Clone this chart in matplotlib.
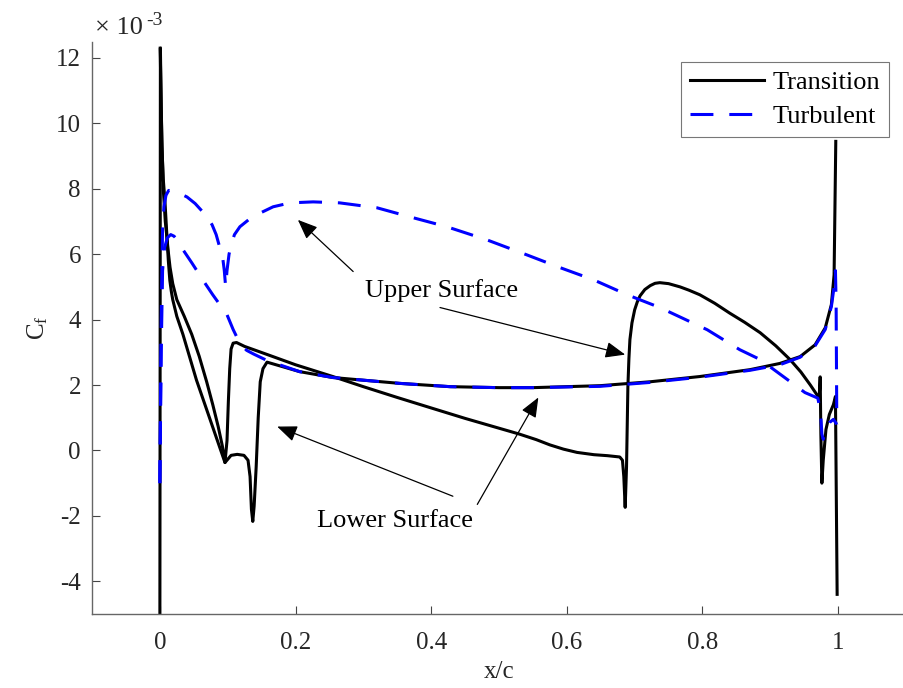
#!/usr/bin/env python3
import matplotlib
matplotlib.use('Agg')
import matplotlib.pyplot as plt
from matplotlib.ticker import FuncFormatter

# skin friction values, Cf in units of 1e-3
trans_upper_x = [0.0005, 0.002, 0.003, 0.005, 0.008, 0.010, 0.012, 0.015, 0.019, 0.025, 0.036,
                 0.047, 0.058, 0.069, 0.078, 0.086, 0.092, 0.096, 0.099, 0.101, 0.103, 0.105,
                 0.108, 0.113, 0.125, 0.160, 0.200, 0.255, 0.300, 0.350, 0.403, 0.450, 0.500,
                 0.530, 0.555, 0.575, 0.595, 0.615, 0.640, 0.660, 0.678, 0.682, 0.684, 0.686,
                 0.688, 0.690, 0.6915, 0.693, 0.696, 0.700, 0.704, 0.708, 0.715, 0.723, 0.730,
                 0.737, 0.750, 0.767, 0.780, 0.796, 0.818, 0.840, 0.862, 0.885, 0.908, 0.929,
                 0.945, 0.959, 0.972, 0.9735, 0.9745, 0.976, 0.978, 0.982, 0.987, 0.993, 0.996,
                 0.9985]
trans_upper_y = [12.3, 10.5, 9.5, 8.0, 7.0, 6.6, 6.15, 5.6, 5.1, 4.61, 4.1,
                 3.55, 2.88, 2.1, 1.4, 0.73, 0.15, -0.37, 0.3, 1.5, 2.5, 3.1,
                 3.28, 3.3, 3.18, 2.92, 2.62, 2.26, 1.95, 1.62, 1.28, 0.98, 0.68,
                 0.50, 0.33, 0.17, 0.04, -0.06, -0.13, -0.16, -0.2, -0.3, -0.8, -1.74,
                 -0.5, 1.95, 2.8, 3.39, 3.9, 4.3, 4.55, 4.73, 4.92, 5.04, 5.11,
                 5.13, 5.1, 5.0, 4.9, 4.76, 4.5, 4.2, 3.92, 3.6, 3.2, 2.78,
                 2.4, 2.0, 1.6, 2.25, 0.5, -1.0, -0.3, 0.64, 1.1, 1.4, 1.65,
                 -4.4]

trans_lower_x = [0.0, 0.0008, 0.002, 0.003, 0.005, 0.0074, 0.010, 0.0125, 0.0147, 0.017, 0.019,
                 0.025, 0.034, 0.054, 0.074, 0.096, 0.105, 0.114, 0.124, 0.130, 0.133, 0.135,
                 0.137, 0.139, 0.142, 0.145, 0.148, 0.152, 0.158, 0.206, 0.255, 0.354, 0.428,
                 0.500, 0.550, 0.649, 0.723, 0.796, 0.870, 0.914, 0.944, 0.966, 0.981, 0.990,
                 0.994, 0.9965]
trans_lower_y = [-6.0, 12.3, 10.5, 9.3, 8.3, 7.66, 6.7, 5.8, 5.2, 4.85, 4.61,
                 4.1, 3.55, 2.15, 0.95, -0.37, -0.15, -0.12, -0.15, -0.3, -0.8, -1.8,
                 -2.17, -1.7, -0.5, 1.0, 2.1, 2.5, 2.7, 2.41, 2.23, 2.05, 1.95,
                 1.92, 1.92, 1.98, 2.1, 2.26, 2.47, 2.66, 2.87, 3.23, 3.75, 4.46,
                 5.37, 9.45]

turb_upper_x = [0.0, 0.002, 0.004, 0.006, 0.009, 0.013, 0.020, 0.030, 0.040, 0.052, 0.063,
                0.071, 0.077, 0.083, 0.088, 0.092, 0.095, 0.097, 0.099, 0.102, 0.106, 0.110,
                0.118, 0.136, 0.167, 0.192, 0.226, 0.265, 0.320, 0.369, 0.423, 0.482, 0.541,
                0.590, 0.639, 0.689, 0.737, 0.770, 0.807, 0.855, 0.885, 0.925, 0.951, 0.970,
                0.974, 0.976, 0.978, 0.981, 0.987, 0.993, 0.998]
turb_upper_y = [-1.0, 4.0, 6.8, 7.45, 7.8, 7.95, 7.93, 7.85, 7.75, 7.55, 7.3,
                7.1, 6.9, 6.6, 6.23, 6.0, 5.5, 5.0, 5.5, 6.0, 6.35, 6.6,
                6.84, 7.14, 7.45, 7.57, 7.6, 7.57, 7.42, 7.14, 6.84, 6.44, 5.98,
                5.59, 5.22, 4.76, 4.37, 4.05, 3.69, 3.08, 2.78, 2.17, 1.77, 1.6,
                1.2, 0.5, 0.34, 0.6, 0.85, 0.95, 0.8]

turb_lower_x = [0.0, 0.002, 0.004, 0.007, 0.011, 0.016, 0.021, 0.027, 0.034, 0.047, 0.066,
                0.078, 0.099, 0.108, 0.115, 0.121, 0.128, 0.138, 0.158, 0.206, 0.255, 0.354,
                0.428, 0.500, 0.550, 0.649, 0.723, 0.796, 0.870, 0.914, 0.944, 0.966, 0.981,
                0.990, 0.994, 0.996, 0.997, 0.998]
turb_lower_y = [-1.0, 3.0, 5.5, 6.2, 6.5, 6.6, 6.55, 6.4, 6.14, 5.74, 5.13,
                4.76, 4.15, 3.7, 3.4, 3.2, 3.06, 2.95, 2.75, 2.41, 2.23, 2.05,
                1.95, 1.92, 1.92, 1.96, 2.08, 2.24, 2.45, 2.62, 2.85, 3.2, 3.7,
                4.4, 5.0, 5.5, 4.5, 0.8]

x_ticks = [0, 0.2, 0.4, 0.6, 0.8, 1]
y_ticks = [-4, -2, 0, 2, 4, 6, 8, 10, 12]

# annotation text (x, y) and arrows (tail -> tip), Cf in 1e-3
upper_label = (0.416, 4.89)
upper_arrows = [((0.285, 5.47), (0.2035, 7.05)), ((0.413, 4.37), (0.686, 2.93))]
lower_label = (0.347, -2.17)
lower_arrows = [((0.432, -1.40), (0.173, 0.73)), ((0.468, -1.65), (0.558, 1.62))]

SCALE = 1e-3
FONT = 'Liberation Serif'
TXT = '#262626'


def scaled(vals):
    return [v * SCALE for v in vals]


def main():
    plt.rcParams['font.family'] = FONT
    plt.rcParams['mathtext.fontset'] = 'custom'
    plt.rcParams['mathtext.rm'] = FONT
    plt.rcParams['mathtext.it'] = FONT + ':italic'
    plt.rcParams['axes.unicode_minus'] = False

    fig = plt.figure(figsize=(9.04, 6.88), dpi=100)
    ax = fig.add_axes([0.1018, 0.1076, 0.9004, 0.8319])

    lw = 2.2
    dash = (7.5, 5.2)
    ax.plot(trans_upper_x, scaled(trans_upper_y), color='black', lw=lw, label='Transition')
    ax.plot(trans_lower_x, scaled(trans_lower_y), color='black', lw=lw)
    ax.plot(turb_upper_x, scaled(turb_upper_y), color='#0000ff', lw=lw, dashes=dash,
            label='Turbulent')
    ax.plot(turb_lower_x, scaled(turb_lower_y), color='#0000ff', lw=lw, dashes=dash)

    ax.set_xlim(-0.1, 1.1)
    ax.set_ylim(-5 * SCALE, 12.5 * SCALE)
    ax.set_xticks(x_ticks)
    ax.set_yticks(scaled(y_ticks))
    ax.xaxis.set_major_formatter(FuncFormatter(lambda v, p: '%g' % round(v, 6)))
    ax.yaxis.set_major_formatter(FuncFormatter(lambda v, p: '%d' % round(v / SCALE)))

    for s in ('top', 'right'):
        ax.spines[s].set_visible(False)
    for s in ('left', 'bottom'):
        ax.spines[s].set_color('#666666')
        ax.spines[s].set_linewidth(1.0)
    ax.tick_params(direction='in', length=6, width=0.8, color='#444444',
                   labelsize=18, labelcolor=TXT)
    ax.tick_params(axis='x', pad=13)
    ax.tick_params(axis='y', pad=8)

    ax.set_xlabel('x/c', fontsize=18, color=TXT, labelpad=5)
    ax.set_ylabel(r'$\mathregular{C_f}$', fontsize=18, color=TXT, labelpad=4)
    # exponent label, MATLAB style
    ax.text(0.0037, 1.013, u'\u00d7 10', transform=ax.transAxes, fontsize=19,
            color=TXT, ha='left', va='baseline')
    ax.text(0.0665, 1.029, '-3', transform=ax.transAxes, fontsize=14,
            color=TXT, ha='left', va='baseline')

    leg = ax.legend(loc='upper right', bbox_to_anchor=(0.979, 0.964), borderaxespad=0,
                    fontsize=19, frameon=True, fancybox=False, handlelength=2.8,
                    handletextpad=0.35, borderpad=0.32, labelspacing=0.4)
    leg.get_frame().set_edgecolor('#555555')
    leg.get_frame().set_linewidth(0.8)

    ax.text(upper_label[0], upper_label[1] * SCALE, 'Upper Surface', fontsize=19,
            ha='center', va='center')
    ax.text(lower_label[0], lower_label[1] * SCALE, 'Lower Surface', fontsize=19,
            ha='center', va='center')
    for tail, tip in upper_arrows + lower_arrows:
        ax.annotate('', xy=(tip[0], tip[1] * SCALE), xytext=(tail[0], tail[1] * SCALE),
                    arrowprops=dict(arrowstyle='-|>,head_length=1.1,head_width=0.45',
                                    color='black', lw=0.9, mutation_scale=11,
                                    shrinkA=0, shrinkB=0))

    fig.savefig('out.png', dpi=100)
    plt.close(fig)


if __name__ == '__main__':
    main()
